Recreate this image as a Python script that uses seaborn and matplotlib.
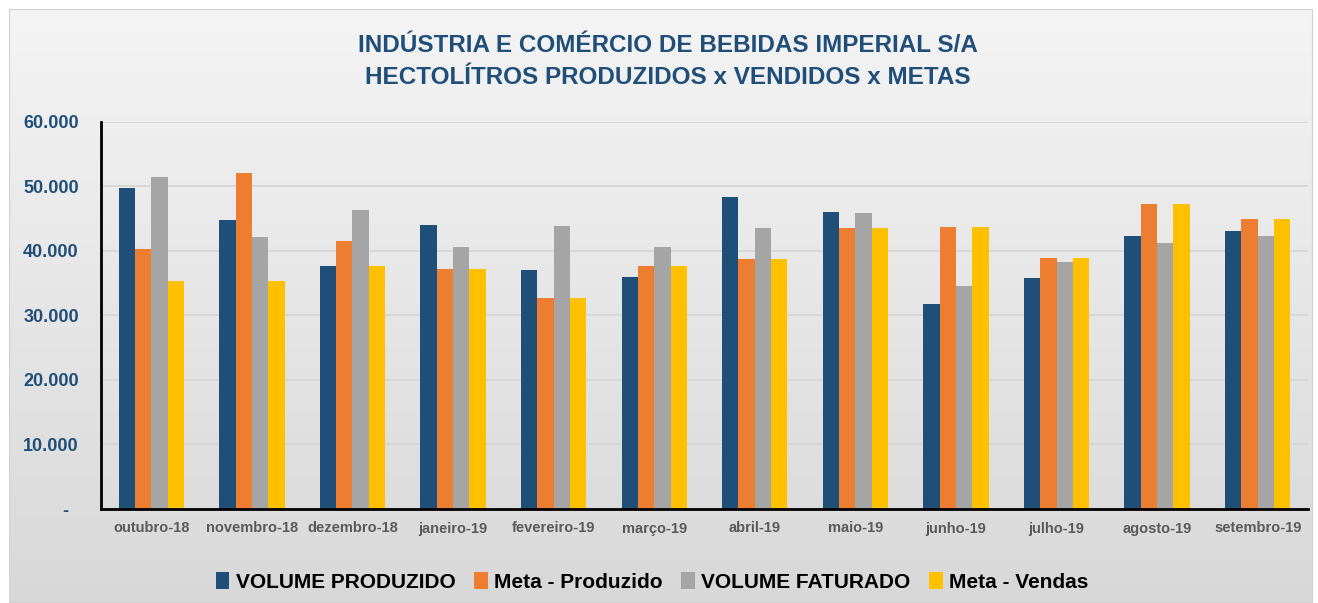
import numpy as np
import pandas as pd
import seaborn as sns
import matplotlib.pyplot as plt
from matplotlib.patches import Rectangle
from matplotlib.colors import LinearSegmentedColormap
from matplotlib.ticker import FuncFormatter

# meses e valores (hectolitros)
meses = ['outubro-18', 'novembro-18', 'dezembro-18', 'janeiro-19', 'fevereiro-19', 'março-19',
         'abril-19', 'maio-19', 'junho-19', 'julho-19', 'agosto-19', 'setembro-19']
volume_produzido = [49700, 44750, 37700, 44000, 37000, 35900, 48300, 46000, 31700, 35700, 42200, 43100]
meta_produzido = [40300, 52000, 41500, 37200, 32700, 37700, 38700, 43500, 43600, 38900, 47300, 44900]
volume_faturado = [51400, 42100, 46300, 40600, 43800, 40600, 43500, 45900, 34500, 38200, 41200, 42200]
meta_vendas = [35300, 35300, 37700, 37200, 32700, 37700, 38700, 43500, 43600, 38900, 47300, 44900]
series = ['VOLUME PRODUZIDO', 'Meta - Produzido', 'VOLUME FATURADO', 'Meta - Vendas']
cores = ['#1f4e79', '#ed7d31', '#a5a5a5', '#ffc000']

dados = pd.DataFrame({'mes': meses * 4,
                      'serie': np.repeat(series, len(meses)),
                      'valor': volume_produzido + meta_produzido + volume_faturado + meta_vendas})

sns.set_style('white')
plt.rcParams['font.family'] = ['Liberation Sans Narrow', 'Liberation Sans', 'DejaVu Sans']

W, H = 1318, 603
fig = plt.figure(figsize=(W / 100, H / 100), dpi=100)
fig.patch.set_facecolor('white')

# fundo com degradê
bg = fig.add_axes([9 / W, 0, 1 - 14 / W, 1 - 9 / H])
grad = np.linspace(0, 1, 256).reshape(-1, 1)
bg.imshow(grad, aspect='auto', cmap=LinearSegmentedColormap.from_list('g', ['#f4f4f4', '#d8d8d8']),
          extent=[0, 1, 0, 1], origin='upper')
bg.set_xlim(0, 1)
bg.set_ylim(0, 1)
bg.axis('off')
bg.add_patch(Rectangle((0, 0), 1, 1, fill=False, edgecolor='#d0d0d0', lw=1.5, transform=bg.transAxes))

ax = fig.add_axes([101 / W, 1 - 509 / H, 1207 / W, 387.5 / H])
ax.patch.set_alpha(0)
sns.barplot(data=dados, x='mes', y='valor', hue='serie', palette=cores, width=0.65, gap=0,
            saturation=1, linewidth=0, ax=ax, legend=True)

ax.set_ylim(0, 60000)
ax.set_yticks(range(0, 60001, 10000))
ax.yaxis.set_major_formatter(FuncFormatter(lambda v, p: '-  ' if v == 0 else f'{int(v):,}'.replace(',', '.')))
ax.grid(axis='y', color='#d4d4d4', lw=1.2)
ax.set_axisbelow(True)
for s in ['top', 'right']:
    ax.spines[s].set_visible(False)
for s in ['left', 'bottom']:
    ax.spines[s].set_color('black')
    ax.spines[s].set_linewidth(2)
ax.set_xlabel('')
ax.set_ylabel('')
ax.tick_params(axis='y', length=0, pad=16, labelsize=13, labelcolor='#1f4e79')
ax.tick_params(axis='x', length=0, pad=9, labelsize=10.5, labelcolor='#595959')
for t in ax.get_yticklabels() + ax.get_xticklabels():
    t.set_fontweight('bold')

fig.text(668 / W, 1 - 45 / H, 'INDÚSTRIA E COMÉRCIO DE BEBIDAS IMPERIAL S/A', ha='center', va='center',
         fontsize=17.5, fontweight='bold', color='#1f4e79')
fig.text(668 / W, 1 - 78 / H, 'HECTOLÍTROS PRODUZIDOS x VENDIDOS x METAS', ha='center', va='center',
         fontsize=17.5, fontweight='bold', color='#1f4e79')

leg = ax.legend(loc='center', bbox_to_anchor=(652 / W, 1 - 582 / H), bbox_transform=fig.transFigure,
                ncol=4, frameon=False, handlelength=0.65, handleheight=0.85, handletextpad=0.3,
                columnspacing=0.9, fontsize=15)
for t in leg.get_texts():
    t.set_fontweight('bold')
    t.set_color('black')

fig.savefig('out.png', dpi=100)
